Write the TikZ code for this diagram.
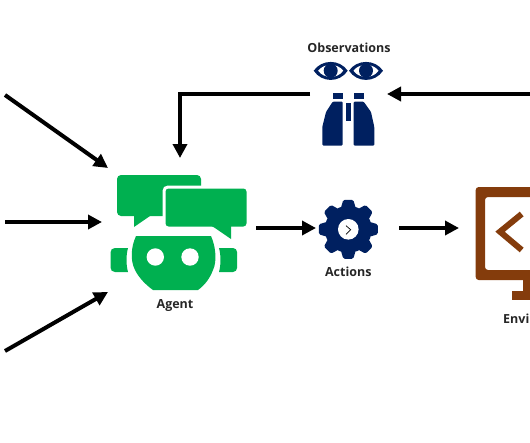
\documentclass[tikz,border=0pt]{standalone}
\usepackage{fontspec}
\setmainfont{Open Sans}
\usetikzlibrary{positioning,arrows.meta}
\definecolor{AgentGreen}{HTML}{00B050}
\definecolor{ObsNavy}{HTML}{002060}
\definecolor{EnvBrown}{HTML}{843C0C}

\begin{document}
\begin{tikzpicture}[
  x=1pt, y=-1pt,
  caption/.style={font=\fontsize{12.5}{14}\selectfont\bfseries, text=black!85, inner sep=0pt},
  arrow/.style={-{Triangle[length=14pt, width=14pt]}, line width=4pt, draw=black},
  bubble/.style={fill=AgentGreen, draw=white, line width=3pt, rounded corners=4pt},
  navypart/.style={fill=ObsNavy, draw=none},
  brownpart/.style={fill=EnvBrown, draw=none}
]
\useasboundingbox (0,0) rectangle (530,442);
\clip (0,0) rectangle (530,442);

% ends of the connectors
\coordinate (in1) at (5,95);
\coordinate (in2) at (5,222);
\coordinate (in3) at (5,351);
\coordinate (agentA) at (108,168);
\coordinate (agentB) at (102,222);
\coordinate (agentC) at (108,292);
\coordinate (agentOut) at (256,228);
\coordinate (agentObs) at (180,158);
\coordinate (bend) at (180,94);
\coordinate (actionsIn) at (316,228);
\coordinate (actionsOut) at (399,228);
\coordinate (envIn) at (459,228);
\coordinate (obsOut) at (310,94);
\coordinate (obsIn) at (387,94);
\coordinate (envOut) at (530,94);

% agent
\fill[AgentGreen, rounded corners=4pt] (117,175) -- (201,175) -- (201,216) -- (117,216) -- cycle;
\fill[AgentGreen] (134,212) -- (134,227) -- (150,216) -- (150,212) -- cycle;
\path[bubble] (164,187) -- (248,187) -- (248,228) -- (164,228) -- cycle;
\fill[AgentGreen] (210,225) -- (215,228) -- (231,239) -- (231,225) -- cycle;
\fill[AgentGreen] (136,236) -- (211,236) .. controls (216,247) and (217,262) .. (213,270)
  .. controls (210,278) and (205,285) .. (198,290) -- (153,290)
  .. controls (146,285) and (139,278) .. (135,270) .. controls (130,260) and (131,247) .. (136,236) -- cycle;
\fill[white] (155.3,257) circle (8.7pt) (190,257) circle (8.7pt);
\fill[AgentGreen] (128,248) -- (115,248) .. controls (112,248) and (110.7,250) .. (110.7,252) -- (110.7,268)
  .. controls (110.7,270) and (112,272) .. (115,272) -- (128,272) .. controls (126,265) and (126,255) .. (128,248) -- cycle;
\fill[AgentGreen] (219,248) -- (233,248) .. controls (235.5,248) and (237,250) .. (237,252) -- (237,268)
  .. controls (237,270) and (235.5,272) .. (233,272) -- (219,272) .. controls (221,265) and (221,255) .. (219,248) -- cycle;
\node[caption] (agent) at (175,305.5) {Agent};

% observations
\node[caption] (observations) at (349,48) {Observations};
\foreach \cx in {330.7,366}{
  \fill[navypart] (\cx-17,70.7) .. controls (\cx-9,59) and (\cx+9,59) .. (\cx+17,70.7)
    .. controls (\cx+9,83) and (\cx-9,83) .. (\cx-17,70.7) -- cycle;
  \fill[white] (\cx-12.5,70.7) .. controls (\cx-7,63) and (\cx+7,63) .. (\cx+12.5,70.7)
    .. controls (\cx+7,79) and (\cx-7,79) .. (\cx-12.5,70.7) -- cycle;
  \fill[navypart] (\cx,70.7) circle (7pt);
}
\fill[navypart] (332.7,93.3) rectangle (342.7,99.3);
\fill[navypart] (353.7,93.3) rectangle (363.7,99.3);
\fill[navypart] (346,102.7) rectangle (350.7,120.7);
\fill[navypart, rounded corners=1pt] (332.7,101.7) -- (342.7,101.7) -- (342.7,145.5) -- (322.3,145.5)
  -- (322.3,127) -- (326,112) -- cycle;
\fill[navypart, rounded corners=1pt] (363.7,101.7) -- (353.7,101.7) -- (353.7,145.5) -- (374.3,145.5)
  -- (374.3,127) -- (371,112) -- cycle;

% actions
\foreach \a in {0,45,...,315}{
  \begin{scope}[shift={(348.3,229.3)}, rotate=\a]
    \fill[navypart, rounded corners=1.5pt] (21,-7.5) -- (29.5,-5) -- (29.5,5) -- (21,7.5) -- cycle;
  \end{scope}
}
\fill[navypart] (348.3,229.3) circle (23.5pt);
\fill[white] (348.3,229.3) circle (10.3pt);
\draw[black, line width=0.7pt] (346,225.7) -- (350.7,229.7) -- (346,234.3);
\node[caption] (actions) at (348.3,272) {Actions};

% environment
\fill[brownpart, rounded corners=3pt, even odd rule] (475.7,187) -- (540,187) -- (540,280) -- (475.7,280) -- cycle
  (485,197) -- (540,197) -- (540,270) -- (485,270) -- cycle;
\fill[brownpart] (523,280) rectangle (530,291);
\fill[brownpart] (512.3,291) rectangle (530,300);
\draw[EnvBrown, line width=6pt] (521.7,214) -- (500,231.7) -- (521.7,250);
\node[caption, anchor=west] (env) at (503,319) {Envi};

% connectors
\draw[arrow] (in1) -- (agentA);
\draw[arrow] (in2) -- (agentB);
\draw[arrow] (in3) -- (agentC);
\draw[arrow] (agentOut) -- (actionsIn);
\draw[arrow] (actionsOut) -- (envIn);
\draw[arrow] (envOut) -- (obsIn);
\draw[arrow] (obsOut) -- (bend) -- (agentObs);
\end{tikzpicture}
\end{document}
